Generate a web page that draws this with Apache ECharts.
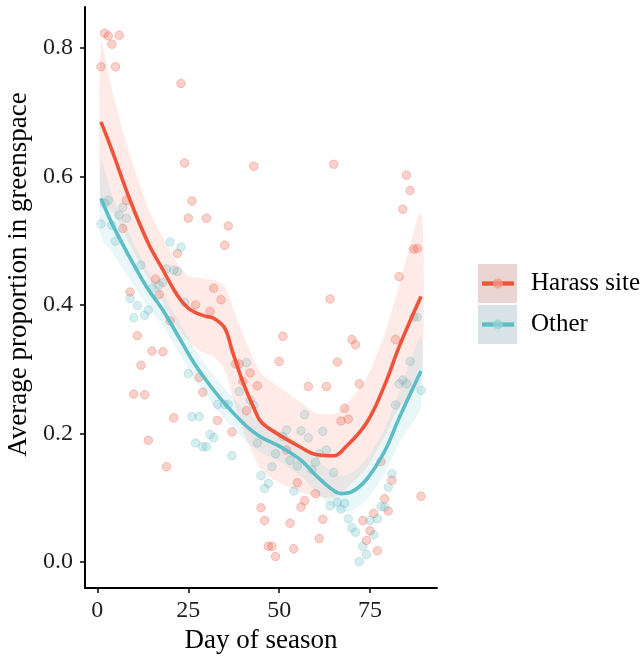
<!DOCTYPE html>
<html>
<head>
<meta charset="utf-8">
<script src="https://cdn.jsdelivr.net/npm/echarts@6/dist/echarts.min.js"></script>
<style>
html,body{margin:0;padding:0;background:#fff;}
#chart{width:644px;height:659px;}
</style>
</head>
<body>
<div id="chart"></div>
<script>
// ---- scatter data ----
const harassDay = [1,2,3,4,5,6,7,8,9,10,11,12,13,14,15,16,17,18,19,20,21,22,23,24,25,26,27,28,29,30,31,32,33,34,35,36,37,38,39,40,41,42,43,44,45,46,47,48,49,50,51,52,53,54,55,56,57,58,60,61,62,63,64,65,66,67,68,69,70,71,72,73,74,75,76,77,78,79,80,81,82,83,84,85,86,87,88,89];
const harassVal = [0.771,0.823,0.819,0.806,0.771,0.820,0.519,0.563,0.420,0.261,0.352,0.306,0.260,0.189,0.328,0.440,0.416,0.327,0.148,0.375,0.224,0.480,0.745,0.621,0.535,0.562,0.400,0.287,0.264,0.535,0.390,0.426,0.220,0.408,0.493,0.523,0.202,0.308,0.308,0.281,0.235,0.294,0.616,0.274,0.084,0.064,0.024,0.024,0.008,0.312,0.351,0.174,0.060,0.020,0.123,0.085,0.095,0.273,0.106,0.036,0.066,0.273,0.409,0.619,0.311,0.219,0.239,0.222,0.346,0.338,0.277,0.064,0.033,0.048,0.075,0.017,0.156,0.098,0.079,0.127,0.346,0.444,0.549,0.602,0.578,0.487,0.488,0.102];

const otherDay = [1,2,3,4,5,6,7,8,9,10,11,12,13,14,15,17,18,19,20,21,22,23,24,25,26,27,28,29,30,31,32,33,35,36,37,39,41,42,43,44,45,46,47,48,49,51,52,53,54,55,56,57,58,59,60,61,62,63,64,65,66,67,68,69,70,71,72,73,74,75,76,77,78,79,80,81,82,83,84,85,86,87,88,89];
const otherVal = [0.526,0.558,0.563,0.524,0.499,0.540,0.552,0.535,0.410,0.380,0.399,0.462,0.384,0.392,0.426,0.431,0.435,0.456,0.498,0.454,0.452,0.490,0.404,0.293,0.226,0.185,0.226,0.179,0.179,0.198,0.193,0.245,0.245,0.245,0.165,0.265,0.310,0.252,0.244,0.185,0.134,0.114,0.122,0.148,0.168,0.195,0.205,0.158,0.110,0.149,0.204,0.229,0.193,0.143,0.155,0.168,0.203,0.174,0.087,0.139,0.093,0.082,0.091,0.067,0.053,0.046,0.000,0.024,0.011,0.064,0.042,0.067,0.086,0.085,0.116,0.137,0.244,0.277,0.283,0.277,0.312,0.381,0.381,0.267];

// ---- smoothed fits and confidence bands ----
const harassFitDay = [1,4,9,14,18,21,23,25,27,30,32,35,37,40,43,45,49,56,60,65,68,74,79,83,89];
const harassFit    = [0.685,0.641,0.563,0.496,0.455,0.424,0.407,0.395,0.388,0.382,0.379,0.364,0.330,0.280,0.240,0.218,0.201,0.178,0.167,0.165,0.177,0.216,0.275,0.335,0.413];
const harassUpper  = [0.810,0.736,0.633,0.551,0.505,0.474,0.457,0.445,0.443,0.440,0.439,0.429,0.400,0.355,0.315,0.293,0.276,0.248,0.232,0.230,0.242,0.286,0.355,0.430,0.543];
const harassLower  = [0.560,0.546,0.493,0.441,0.405,0.374,0.357,0.345,0.333,0.324,0.319,0.299,0.260,0.205,0.165,0.143,0.126,0.108,0.102,0.100,0.112,0.146,0.195,0.240,0.283];

const otherFitDay = [1,4,9,14,18,23,27,32,36,41,45,50,56,60,64,67,70,74,79,83,89];
const otherFit    = [0.566,0.527,0.473,0.424,0.392,0.344,0.306,0.267,0.240,0.211,0.194,0.180,0.158,0.135,0.115,0.106,0.109,0.128,0.172,0.224,0.297];
const otherUpper  = [0.626,0.572,0.508,0.452,0.417,0.368,0.330,0.291,0.264,0.235,0.218,0.204,0.183,0.161,0.142,0.134,0.139,0.160,0.207,0.264,0.352];
const otherLower  = [0.506,0.482,0.438,0.396,0.367,0.320,0.282,0.243,0.216,0.187,0.170,0.156,0.133,0.109,0.088,0.078,0.079,0.096,0.137,0.184,0.242];

// ---- axis ticks ----
const xTicks = [0,25,50,75];
const yTicks = [0,0.2,0.4,0.6,0.8];

const seriesNames = ['Harass site','Other'];
const FONT = 'Liberation Serif';
const RED = '#EF533A';
const TEAL = '#5DBDC7';

const zip = (a,b) => a.map((v,i)=>[v,b[i]]);
const bandData = (d,lo,hi) => d.map((v,i)=>[v,lo[i],hi[i]]);

function bandRender(fill){
  return function(params, api){
    if (params.dataIndexInside !== 0) return null;
    const n = params.dataInsideLength;
    const up = [], lo = [];
    for (let i=0;i<n;i++){
      const x = api.value(0,i);
      up.push(api.coord([x, api.value(2,i)]));
      lo.push(api.coord([x, api.value(1,i)]));
    }
    const pts = up.concat(lo.reverse());
    return {type:'polygon', shape:{points:pts, smooth:0.25}, style:{fill:fill}, silent:true};
  };
}

const chart = echarts.init(document.getElementById('chart'), null, {renderer:'canvas'});
chart.setOption({
  animation:false,
  backgroundColor:'#fff',
  grid:{left:85, right:207, top:7, bottom:71, containLabel:false, outerBoundsMode:'none'},
  xAxis:{
    type:'value', min:-3.4, max:93.4,
    name:'Day of season', nameLocation:'middle', nameGap:37,
    nameTextStyle:{fontFamily:FONT, fontSize:27, color:'#000'},
    axisLine:{show:true, onZero:false, lineStyle:{color:'#000', width:2}},
    axisTick:{show:true, length:5, lineStyle:{color:'#000', width:1.5}, customValues:xTicks},
    axisLabel:{customValues:xTicks, margin:11, fontFamily:FONT, fontSize:24, color:'#1e1e1e'},
    splitLine:{show:false}
  },
  yAxis:{
    type:'value', min:-0.041, max:0.864,
    name:'Average proportion in greenspace', nameLocation:'middle', nameGap:43,
    nameTextStyle:{fontFamily:FONT, fontSize:27, color:'#000', padding:[0,0,0,46]},
    axisLine:{show:true, onZero:false, lineStyle:{color:'#000', width:2}},
    axisTick:{show:true, length:5, lineStyle:{color:'#000', width:1.5}, customValues:yTicks},
    axisLabel:{customValues:yTicks, margin:12, fontFamily:FONT, fontSize:24, color:'#1e1e1e',
      formatter:v=>v.toFixed(1)},
    splitLine:{show:false}
  },
  series:[
    {name:seriesNames[0], type:'scatter', data:zip(harassDay,harassVal), symbolSize:8.5, z:1,
     itemStyle:{color:'rgba(240,95,75,0.36)', borderColor:'rgba(232,90,70,0.4)', borderWidth:1}},
    {name:seriesNames[1], type:'scatter', data:zip(otherDay,otherVal), symbolSize:8.5, z:1,
     itemStyle:{color:'rgba(90,185,195,0.3)', borderColor:'rgba(80,175,185,0.32)', borderWidth:1}},
    {name:seriesNames[0]+' band', type:'custom', data:bandData(harassFitDay,harassLower,harassUpper),
     renderItem:bandRender('rgba(245,100,75,0.13)'), z:2, silent:true},
    {name:seriesNames[0]+' fit', type:'line', data:zip(harassFitDay,harassFit), smooth:0.4,
     showSymbol:false, lineStyle:{color:RED, width:3.6}, z:4, silent:true},
    {name:seriesNames[1]+' band', type:'custom', data:bandData(otherFitDay,otherLower,otherUpper),
     renderItem:bandRender('rgba(95,190,200,0.13)'), z:3, silent:true},
    {name:seriesNames[1]+' fit', type:'line', data:zip(otherFitDay,otherFit), smooth:0.4,
     showSymbol:false, lineStyle:{color:TEAL, width:3.6}, z:5, silent:true}
  ],
  graphic:[
    {type:'rect', left:478, top:264, shape:{width:39, height:39}, style:{fill:'#E9D5D1'}},
    {type:'line', shape:{x1:482, y1:283.5, x2:514, y2:283.5}, style:{stroke:RED, lineWidth:4.3}},
    {type:'circle', shape:{cx:498, cy:283.5, r:5}, style:{fill:'rgba(245,150,135,0.75)'}},
    {type:'text', x:531, y:283.5, style:{text:seriesNames[0], fontFamily:FONT, fontSize:25, fill:'#000', verticalAlign:'middle'}},
    {type:'rect', left:478, top:305, shape:{width:39, height:39}, style:{fill:'#D7E3E5'}},
    {type:'line', shape:{x1:482, y1:324.5, x2:514, y2:324.5}, style:{stroke:TEAL, lineWidth:4.3}},
    {type:'circle', shape:{cx:498, cy:324.5, r:5}, style:{fill:'rgba(150,210,215,0.75)'}},
    {type:'text', x:531, y:324.5, style:{text:seriesNames[1], fontFamily:FONT, fontSize:25, fill:'#000', verticalAlign:'middle'}}
  ]
});
</script>
</body>
</html>
